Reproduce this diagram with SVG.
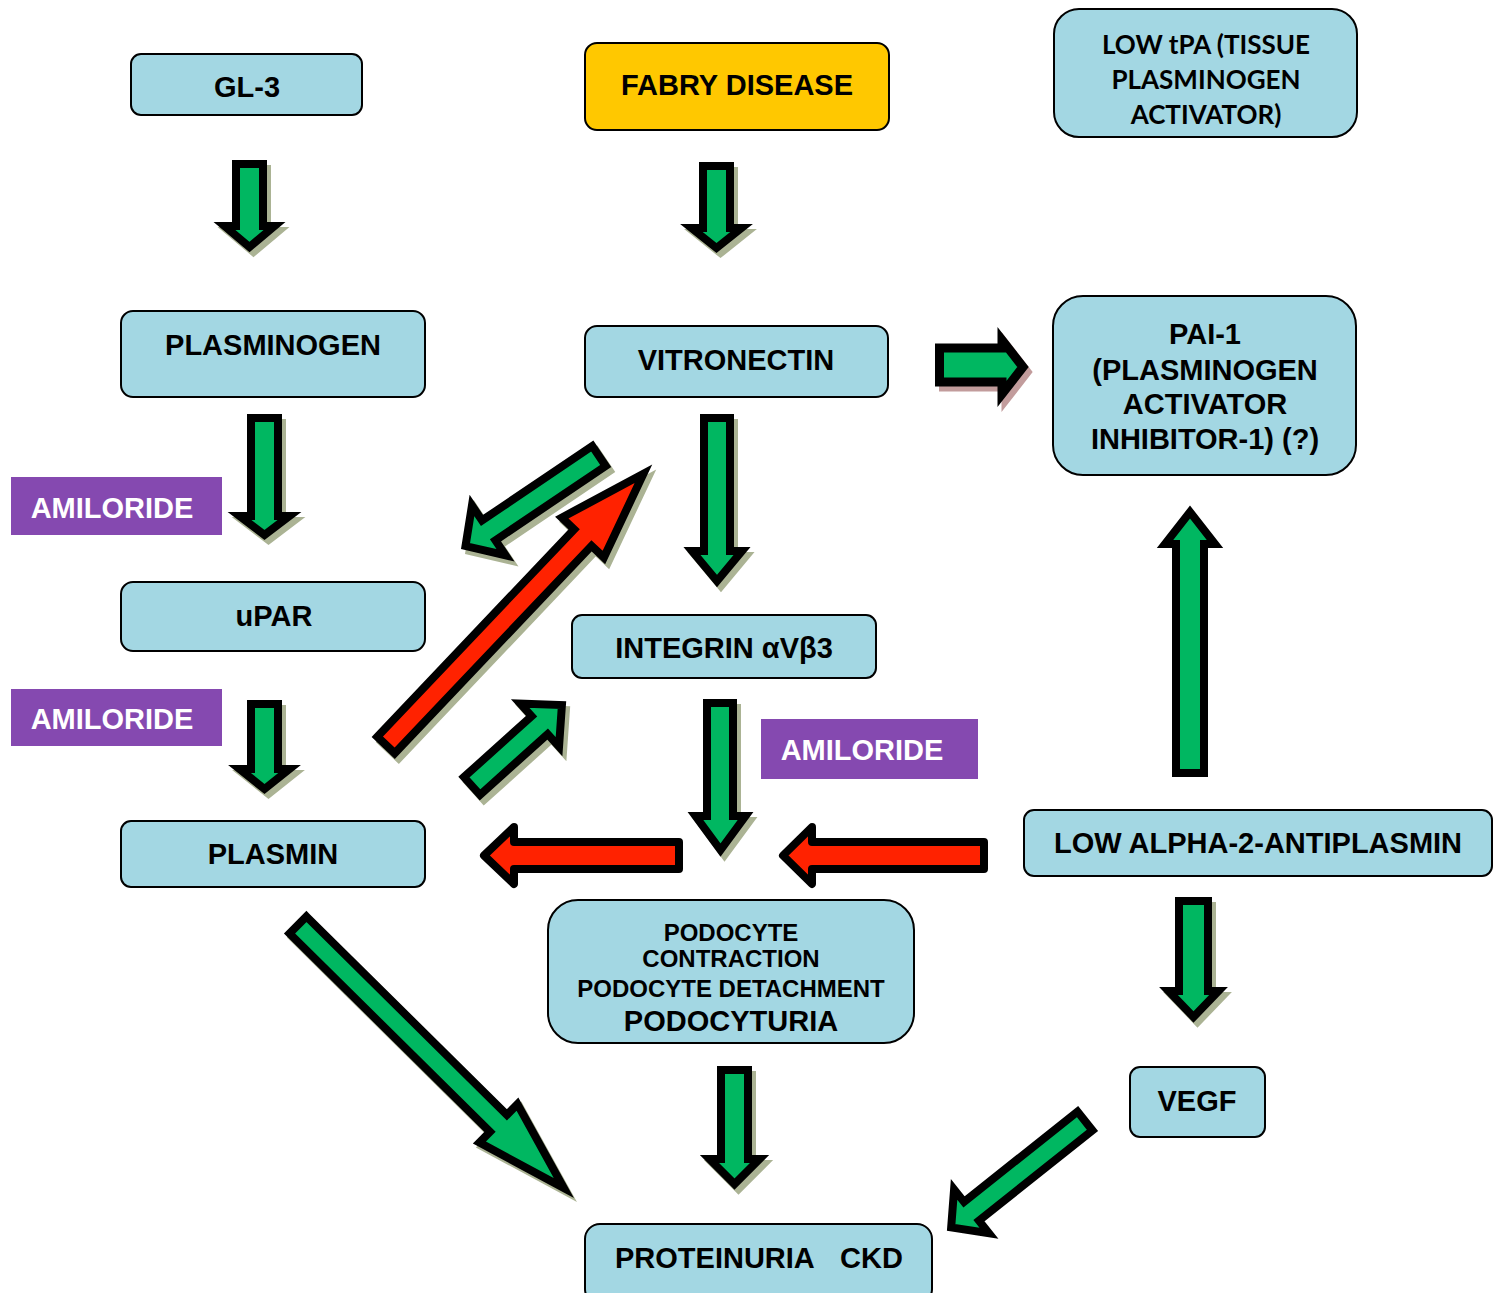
<svg xmlns="http://www.w3.org/2000/svg" xmlns:xlink="http://www.w3.org/1999/xlink" width="1500" height="1293" viewBox="0 0 1500 1293">
<style>
.box{fill:#a3d7e3;stroke:#000;stroke-width:2}
.fab{fill:#ffc800;stroke:#000;stroke-width:2}
.ami{fill:#8549b0}
.t{font-family:"Liberation Sans",Arial,sans-serif;font-weight:bold;font-size:29px;fill:#000;text-anchor:middle}
.tw{fill:#fff}
.cal{font-family:Lato,"Liberation Sans",sans-serif;font-weight:bold;font-size:26px;fill:#000;text-anchor:middle}
.s24{font-size:24px}
.green{fill:#00b761;stroke:#000;stroke-width:8;stroke-linejoin:miter;stroke-miterlimit:6}
.red{fill:#ff2200;stroke:#000;stroke-width:8;stroke-linejoin:miter;stroke-miterlimit:6}
.redr{fill:#ff2200;stroke:#000;stroke-width:8;stroke-linejoin:round}
.sh{fill:#abb394;stroke:#abb394;stroke-width:8;stroke-linejoin:miter;stroke-miterlimit:6}
.shp{fill:#c29c9c;stroke:#c29c9c;stroke-width:9;stroke-linejoin:miter;stroke-miterlimit:6}
</style>
<defs>
<polygon id="a1" points="236,164 263,164 263,226 274.5,226 249.5,247 224.5,226 236,226"/>
<polygon id="a2" points="703,166 730,166 730,228 741.5,228 716.5,248 691.5,228 703,228"/>
<polygon id="a3" points="251,418 278,418 278,516 289.5,516 264.5,535 239.5,516 251,516"/>
<polygon id="a4" points="251,704 278,704 278,769 289.5,769 264.5,789 239.5,769 251,769"/>
<polygon id="a5" points="704,418 730,418 730,551 742,551 717,581 692,551 704,551"/>
<polygon id="a6" points="707,703 733,703 733,816 745.5,816 720.5,850 695.5,816 707,816"/>
<polygon id="a7" points="721,1070 748,1070 748,1159 759.5,1159 734.5,1184 709.5,1159 721,1159"/>
<polygon id="a8" points="1179,901 1208,901 1208,991 1218.5,991 1193.5,1017 1168.5,991 1179,991"/>
<polygon id="a9" points="1176,773 1204,773 1204,544 1215,544 1190,512 1165,544 1176,544"/>
<polygon id="a10" points="939.5,348 1002,348 1002,340 1023,367 1002,394 1002,382 939.5,382"/>
<polygon id="a11" transform="translate(298,925) rotate(44.7)" points="0,-12 282,-12 282,-27 374,0 282,27 282,12 0,12"/>
<polygon id="a12" transform="translate(1085,1121) rotate(141.5)" points="0,-12 145,-12 145,-28 171,0 145,28 145,12 0,12"/>
<polygon id="a13" transform="translate(599,456) rotate(146)" points="0,-12 133,-12 133,-30 161,0 133,30 133,12 0,12"/>
<polygon id="a14" transform="translate(386,745) rotate(-46.5)" points="0,-12 286,-12 286,-29 374,0 286,29 286,12 0,12"/>
<polygon id="a15" transform="translate(472,786) rotate(-42)" points="0,-12 91,-12 91,-29 121,0 91,29 91,12 0,12"/>
<polygon id="a16" points="679,842 514,842 514,827 484,855.5 514,884 514,869 679,869"/>
<polygon id="a17" points="984,842 812,842 812,827 783,855.5 812,884 812,869 984,869"/>
</defs>

<g id="connectors">
<use xlink:href="#a1" href="#a1" class="sh" x="4" y="5"/>
<use xlink:href="#a1" href="#a1" class="green"/>
<use xlink:href="#a2" href="#a2" class="sh" x="4" y="5"/>
<use xlink:href="#a2" href="#a2" class="green"/>
<use xlink:href="#a3" href="#a3" class="sh" x="4" y="5"/>
<use xlink:href="#a3" href="#a3" class="green"/>
<use xlink:href="#a4" href="#a4" class="sh" x="4" y="5"/>
<use xlink:href="#a4" href="#a4" class="green"/>
<use xlink:href="#a5" href="#a5" class="sh" x="4" y="5"/>
<use xlink:href="#a5" href="#a5" class="green"/>
<use xlink:href="#a6" href="#a6" class="sh" x="4" y="5"/>
<use xlink:href="#a6" href="#a6" class="green"/>
<use xlink:href="#a7" href="#a7" class="sh" x="4" y="5"/>
<use xlink:href="#a7" href="#a7" class="green"/>
<use xlink:href="#a8" href="#a8" class="sh" x="4" y="5"/>
<use xlink:href="#a8" href="#a8" class="green"/>
<use xlink:href="#a9" href="#a9" class="green"/>
<use xlink:href="#a10" href="#a10" class="shp" x="4" y="5"/>
<use xlink:href="#a10" href="#a10" class="green" style="stroke-width:9"/>
<use xlink:href="#a11" href="#a11" class="sh" x="3" y="4"/>
<use xlink:href="#a11" href="#a11" class="green"/>
<use xlink:href="#a12" href="#a12" class="green"/>
<use xlink:href="#a13" href="#a13" class="sh" x="4" y="5"/>
<use xlink:href="#a13" href="#a13" class="green"/>
<use xlink:href="#a14" href="#a14" class="sh" x="4" y="5"/>
<use xlink:href="#a14" href="#a14" class="red"/>
<use xlink:href="#a15" href="#a15" class="sh" x="4" y="5"/>
<use xlink:href="#a15" href="#a15" class="green"/>
<use xlink:href="#a16" href="#a16" class="redr"/>
<use xlink:href="#a17" href="#a17" class="redr"/>
</g>

<g id="gl3"><rect class="box" x="131" y="54" width="231" height="61" rx="10"/><text class="t" x="247" y="96.5">GL-3</text></g>
<g id="fabry"><rect class="fab" x="585" y="43" width="304" height="87" rx="12"/><text class="t" x="737" y="94.5">FABRY DISEASE</text></g>
<g id="lowtpa"><rect class="box" x="1054" y="9" width="303" height="128" rx="25"/>
<text class="cal" x="1206" y="54">LOW tPA (TISSUE</text>
<text class="cal" x="1206" y="89">PLASMINOGEN</text>
<text class="cal" x="1206" y="124">ACTIVATOR)</text></g>
<g id="plasminogen"><rect class="box" x="121" y="311" width="304" height="86" rx="12"/><text class="t" x="273" y="354.5">PLASMINOGEN</text></g>
<g id="vitronectin"><rect class="box" x="585" y="326" width="303" height="71" rx="12"/><text class="t" x="736" y="369.5">VITRONECTIN</text></g>
<g id="pai1"><rect class="box" x="1053" y="296" width="303" height="179" rx="30"/>
<text class="t" x="1205" y="343.5">PAI-1</text>
<text class="t" x="1205" y="379.5">(PLASMINOGEN</text>
<text class="t" x="1205" y="413.5">ACTIVATOR</text>
<text class="t" x="1205" y="448.5">INHIBITOR-1) (?)</text></g>
<g id="amiloride1"><rect class="ami" x="11" y="477" width="211" height="58"/><text class="t tw" x="112" y="517.5">AMILORIDE</text></g>
<g id="upar"><rect class="box" x="121" y="582" width="304" height="69" rx="12"/><text class="t" x="274" y="625.5">uPAR</text></g>
<g id="amiloride2"><rect class="ami" x="11" y="689" width="211" height="57"/><text class="t tw" x="112" y="728.5">AMILORIDE</text></g>
<g id="integrin"><rect class="box" x="572" y="615" width="304" height="63" rx="10"/><text class="t" x="724" y="657.5">INTEGRIN αVβ3</text></g>
<g id="amiloride3"><rect class="ami" x="761" y="719" width="217" height="60"/><text class="t tw" x="862" y="759.5">AMILORIDE</text></g>
<g id="plasmin"><rect class="box" x="121" y="821" width="304" height="66" rx="10"/><text class="t" x="273" y="863.5">PLASMIN</text></g>
<g id="lowalpha"><rect class="box" x="1024" y="810" width="468" height="66" rx="10"/><text class="t" x="1258" y="852.5">LOW ALPHA-2-ANTIPLASMIN</text></g>
<g id="podocyte"><rect class="box" x="548" y="900" width="366" height="143" rx="30"/>
<text class="t s24" x="731" y="940.5">PODOCYTE</text>
<text class="t s24" x="731" y="966.5">CONTRACTION</text>
<text class="t s24" x="731" y="996.5">PODOCYTE DETACHMENT</text>
<text class="t" x="731" y="1030.5">PODOCYTURIA</text></g>
<g id="vegf"><rect class="box" x="1130" y="1067" width="135" height="70" rx="10"/><text class="t" x="1197" y="1110.5">VEGF</text></g>
<g id="proteinuria"><rect class="box" x="585" y="1224" width="347" height="80" rx="15"/>
<text class="t" x="615" y="1267.5" style="text-anchor:start">PROTEINURIA</text>
<text class="t" x="840" y="1267.5" style="text-anchor:start">CKD</text></g>
</svg>
